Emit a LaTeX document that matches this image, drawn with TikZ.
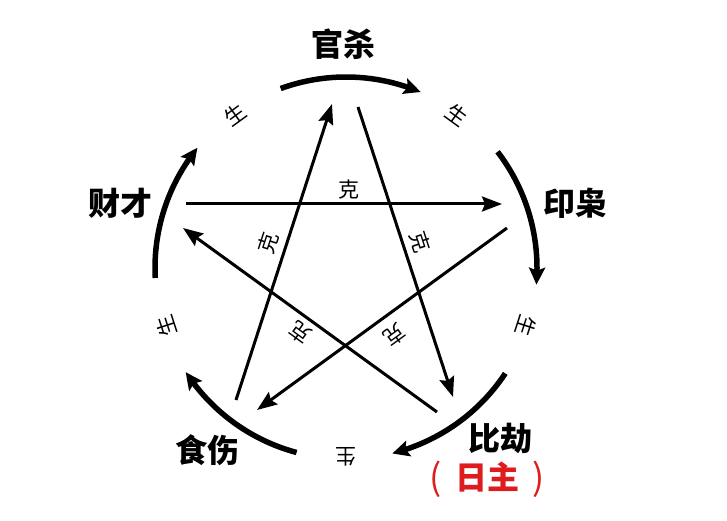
\documentclass[tikz,border=0pt]{standalone}
\usepackage{fontspec}
\newfontfamily\cjk{Noto Sans CJK SC}
\usetikzlibrary{arrows.meta,bending,calc}
\definecolor{zred}{RGB}{222,28,30}
\begin{document}
\begin{tikzpicture}[x=1pt,y=1pt,
  cyc/.style={line width=5.5pt, -{Stealth[length=17pt,width=16pt,inset=3pt,bend]}},
  kel/.style={line width=3pt, -{Stealth[length=20pt,width=15pt,inset=3pt]}},
  big/.style={font=\cjk\bfseries\fontsize{32}{32}\selectfont, inner sep=0pt},
  small/.style={font=\cjk\fontsize{21}{21}\selectfont, inner sep=0pt},
]
\fill[white] (0,0) rectangle (727,520);
\useasboundingbox (0,0) rectangle (727,520);
\coordinate (O) at (346,252);

% element labels
\node[big] (guan) at (343,476) {官杀};
\node[big] (yin)  at (575,317) {印枭};
\node[big] (cai)  at (120,317) {财才};
\node[big] (shi)  at (207,70)  {食伤};
\node[big] (bi)   at (500,82)  {比劫};
\node[big, text=zred] (rizhu) at (487,41)
  {{\mdseries\fontsize{36}{36}\selectfont\raisebox{-1pt}{(}}\hspace{13pt}日主\hspace{13pt}{\mdseries\fontsize{36}{36}\selectfont\raisebox{-1pt}{)}}};

% generating cycle arcs
\draw[cyc] ($(O)+(110:191)$) arc[start angle=110, end angle=67, radius=191];
\draw[cyc] ($(O)+(37.5:191)$) arc[start angle=37.5, end angle=-5, radius=191];
\draw[cyc] ($(O)+(-33.5:191)$) arc[start angle=-33.5, end angle=-76, radius=191];
\draw[cyc] ($(O)+(-105:191)$) arc[start angle=-105, end angle=-147, radius=191];
\draw[cyc] ($(O)+(183:191)$) arc[start angle=183, end angle=141, radius=191];

% sheng labels
\foreach \a/\n in {126/s1, 54/s2, -18/s3, -90/s4, 198/s5}{
  \node[small, rotate=\a-90] (\n) at ($(O)+(\a:189)$) {生};
}

% controlling star lines
\coordinate (caiS) at (186,316);  \coordinate (yinE) at (502,316);
\coordinate (guanS) at (358,413); \coordinate (biE) at (453,123);
\coordinate (yinS) at (507,292);  \coordinate (shiE) at (257,110);
\coordinate (biS) at (437,108);   \coordinate (caiE) at (183,292);
\coordinate (shiS) at (236,120);  \coordinate (guanE) at (332,416);
\draw[kel] (caiS) -- (yinE);
\draw[kel] (guanS) -- (biE);
\draw[kel] (yinS) -- (shiE);
\draw[kel] (biS) -- (caiE);
\draw[kel] (shiS) -- (guanE);

% ke labels
\node[small] (k1) at (349,330) {克};
\node[small, rotate=72] (k2) at (268,277) {克};
\node[small, rotate=-72] (k3) at (420,278) {克};
\node[small, rotate=144] (k4) at (300,187) {克};
\node[small, rotate=-144] (k5) at (395,185) {克};
\end{tikzpicture}
\end{document}
